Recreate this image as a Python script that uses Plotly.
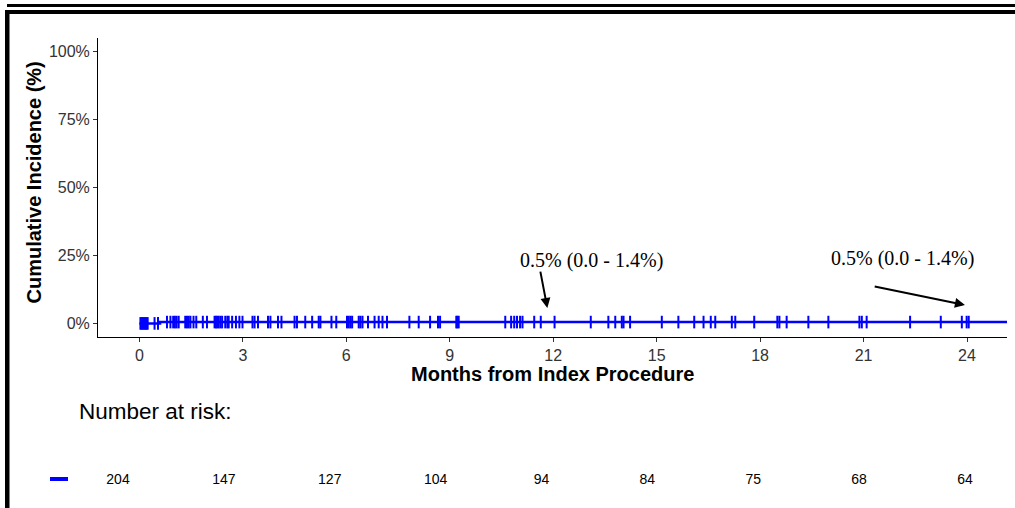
import plotly.graph_objects as go

# ---------------- data ----------------
event_times = [0.0, 0.6, 25.2]          # step curve knots (months)
event_values = [0.0, 0.49, 0.49]        # cumulative incidence (%)

censor_times = [
    0.03, 0.06, 0.09, 0.12, 0.15, 0.18, 0.21, 0.24,
    0.44, 0.54, 0.80, 0.90, 0.98, 1.03, 1.08, 1.14,
    1.33, 1.38, 1.43, 1.48, 1.57, 1.65, 1.84, 1.96,
    2.18, 2.22, 2.26, 2.30, 2.35, 2.40, 2.49, 2.55, 2.59,
    2.69, 2.80, 2.90, 2.99, 3.28, 3.34, 3.44, 3.73, 3.80,
    4.02, 4.12, 4.50, 4.57, 4.81, 5.01, 5.20, 5.25, 5.57, 5.71,
    6.02, 6.07, 6.12, 6.17, 6.36, 6.41, 6.47, 6.63, 6.82, 6.94,
    7.05, 7.18, 7.83, 8.10, 8.43, 8.66, 8.72, 9.19, 9.22, 9.26,
    10.61, 10.78, 10.87, 10.95, 11.04, 11.11, 11.45, 11.64, 12.04,
    13.09, 13.60, 13.80, 13.99, 14.04, 14.23, 15.15, 15.63, 16.09,
    16.36, 16.57, 16.70, 17.18, 17.28, 17.83, 18.50, 18.56, 18.77,
    19.40, 19.98, 20.88, 20.95, 21.09, 22.35, 23.24, 23.85, 23.99, 24.05,
]

risk_times = [0, 3, 6, 9, 12, 15, 18, 21, 24]
risk_counts = [204, 147, 127, 104, 94, 84, 75, 68, 64]

x_ticks = [0, 3, 6, 9, 12, 15, 18, 21, 24]
y_ticks = [0, 25, 50, 75, 100]

annot_label = "0.5% (0.0 - 1.4%)"
annot_text_pos = [(13.12, 23.2), (22.14, 23.9)]
annot_arrow_head = [(11.83, 5.7), (23.94, 6.8)]
annot_arrow_tail = [(11.62, 19.6), (21.28, 13.7)]

# ---------------- helpers ----------------
W, H = 1015, 508
ML, MR, MT, MB = 98, 8, 38, 10
PW, PH = W - ML - MR, H - MT - MB


def px(xp):
    return (xp - ML) / PW


def py(yp):
    return (H - MB - yp) / PH


def ci_at(t):
    v = event_values[0]
    for tt, vv in zip(event_times, event_values):
        if t >= tt:
            v = vv
    return v


BLUE = "#0000FF"
SANS = "Liberation Sans, Arial, sans-serif"
SERIF = "Liberation Serif, Times New Roman, serif"

fig = go.Figure()

fig.add_trace(go.Scatter(
    x=event_times, y=event_values, mode="lines",
    line=dict(color=BLUE, width=2.5, shape="hv"),
    hoverinfo="skip", showlegend=False, xaxis="x", yaxis="y",
))
fig.add_trace(go.Scatter(
    x=censor_times, y=[ci_at(t) for t in censor_times], mode="markers",
    marker=dict(symbol="line-ns-open", size=9, color=BLUE,
                line=dict(color=BLUE, width=2)),
    showlegend=False, xaxis="x", yaxis="y", cliponaxis=False,
))
fig.add_trace(go.Scatter(
    x=risk_times, y=[0.13] * len(risk_times), mode="text",
    text=[str(c) for c in risk_counts],
    textfont=dict(family=SANS, size=14, color="#000000"),
    textposition="middle center",
    showlegend=False, xaxis="x2", yaxis="y2", cliponaxis=False,
))

main_bottom = py(337)

fig.update_layout(
    width=W, height=H,
    margin=dict(l=ML, r=MR, t=MT, b=MB),
    paper_bgcolor="white", plot_bgcolor="white",
    showlegend=False,
    xaxis=dict(
        domain=[0, 1], range=[-1.2, 25.16], anchor="y",
        tickvals=x_ticks, ticktext=[str(v) for v in x_ticks],
        ticks="outside", ticklen=4, tickwidth=1, tickcolor="#333333",
        showline=True, linecolor="#000000", linewidth=1,
        showgrid=False, zeroline=False,
        tickfont=dict(family=SANS, size=16, color="#333333"),
    ),
    yaxis=dict(
        domain=[main_bottom, 1], range=[-5, 105], anchor="x",
        tickvals=y_ticks, ticktext=[f"{v}%" for v in y_ticks],
        ticks="outside", ticklen=4, tickwidth=1, tickcolor="#333333",
        showline=True, linecolor="#000000", linewidth=1,
        showgrid=False, zeroline=False,
        tickfont=dict(family=SANS, size=16, color="#333333"),
    ),
    xaxis2=dict(
        domain=[0, 1], range=[-0.567, 25.19], anchor="y2",
        visible=False,
    ),
    yaxis2=dict(
        domain=[0, 0.3], range=[0, 1], anchor="x2",
        visible=False,
    ),
)

annotations = [
    dict(text="<b>Cumulative Incidence (%)</b>", textangle=-90,
         xref="paper", yref="paper", x=px(33), y=py(182.5),
         xanchor="center", yanchor="middle", showarrow=False,
         font=dict(family=SANS, size=20, color="#000000")),
    dict(text="<b>Months from Index Procedure</b>",
         xref="paper", yref="paper", x=0.5, y=py(374),
         xanchor="center", yanchor="middle", showarrow=False,
         font=dict(family=SANS, size=20, color="#000000")),
    dict(text="Number at risk:",
         xref="paper", yref="paper", x=px(77), y=py(411),
         xanchor="left", yanchor="middle", showarrow=False,
         font=dict(family=SANS, size=22.5, color="#000000")),
]
for (tx, ty) in annot_text_pos:
    annotations.append(dict(
        text=annot_label, xref="x", yref="y", x=tx, y=ty,
        xanchor="center", yanchor="middle", showarrow=False,
        font=dict(family=SERIF, size=20, color="#000000")))
for (hx, hy), (tx, ty) in zip(annot_arrow_head, annot_arrow_tail):
    annotations.append(dict(
        text="", xref="x", yref="y", x=hx, y=hy,
        axref="x", ayref="y", ax=tx, ay=ty,
        showarrow=True, arrowhead=2, arrowsize=1, arrowwidth=2,
        arrowcolor="#000000", standoff=0, startstandoff=0))
fig.update_layout(annotations=annotations)

shapes = [
    # outer frame pieces
    dict(type="rect", xref="paper", yref="paper",
         x0=px(7), x1=px(1016), y0=py(7), y1=py(4),
         fillcolor="#000000", line=dict(width=0)),
    dict(type="rect", xref="paper", yref="paper",
         x0=px(5), x1=px(1016), y0=py(14), y1=py(10),
         fillcolor="#000000", line=dict(width=0)),
    dict(type="rect", xref="paper", yref="paper",
         x0=px(5), x1=px(9.5), y0=py(509), y1=py(10),
         fillcolor="#000000", line=dict(width=0)),
    # legend key of the risk table
    dict(type="rect", xref="paper", yref="paper",
         x0=px(50), x1=px(68), y0=py(481), y1=py(477),
         fillcolor=BLUE, line=dict(width=0)),
]
fig.update_layout(shapes=shapes)

fig.write_html(
    "out.html",
    config={"displayModeBar": False, "staticPlot": True},
    post_script="document.body.style.margin='0';document.body.style.overflow='hidden';",
)
